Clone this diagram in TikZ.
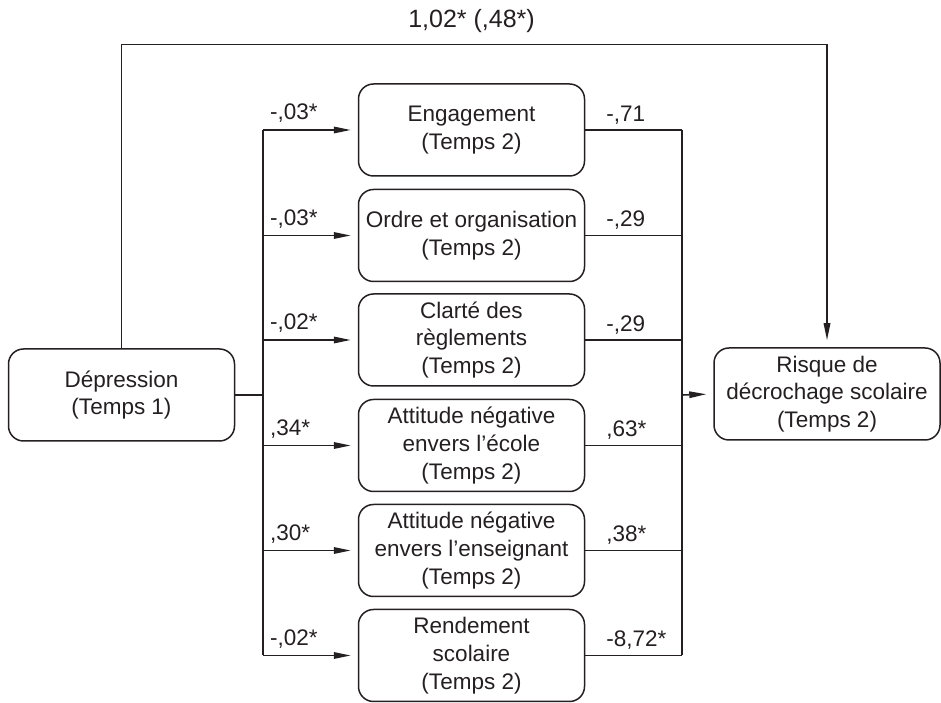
\documentclass[tikz,border=0pt]{standalone}
\usepackage{fontspec}
\setmainfont{Liberation Sans}
\usetikzlibrary{arrows.meta,calc}
\definecolor{LineClr}{rgb}{0.14,0.12,0.13}

\begin{document}
\begin{tikzpicture}[x=1pt,y=1pt,
  box/.style={draw=LineClr,line width=1.5pt,rounded corners=15pt,minimum width=226pt,minimum height=92pt,inner sep=0pt,align=center,text=LineClr,font=\fontsize{22.5}{27.7}\selectfont},
  coef/.style={anchor=base west,inner sep=0pt,text=LineClr,font=\fontsize{22.5}{27}\selectfont},
  link/.style={draw=LineClr,line width=1.6pt},
  arr/.style={link,-{Triangle[length=17pt,width=6.5pt]},shorten >=7pt}]
\useasboundingbox (0,0) rectangle (941,703);

\node[box] (dep) at (121.5,308) {Dépression\\(Temps 1)};
\node[box] (risk) at (827,309) {Risque de\\décrochage scolaire\\(Temps 2)};

\node[box] (eng) at (471.5,573) {Engagement\\(Temps 2)};
\node[box] (ord) at (471.5,467.5) {Ordre et organisation\\(Temps 2)};
\node[box] (cla) at (471.5,363) {Clarté des\\règlements\\(Temps 2)};
\node[box] (eco) at (471.5,257.5) {Attitude négative\\envers l’école\\(Temps 2)};
\node[box] (ens) at (471.5,152.5) {Attitude négative\\envers l’enseignant\\(Temps 2)};
\node[box] (ren) at (471.5,47.5) {Rendement\\scolaire\\(Temps 2)};

\coordinate (L) at (263,308);
\coordinate (R) at (682,308);
\coordinate (T) at (471.5,658.5);

% depression to mediators
\draw[link] (dep.east) -- (L);
\draw[link] (L |- eng.west) -- (L |- ren.west);
\draw[arr] (L |- eng.west) -- (eng.west);
\draw[arr] (L |- ord.west) -- (ord.west);
\draw[arr] (L |- cla.west) -- (cla.west);
\draw[arr] (L |- eco.west) -- (eco.west);
\draw[arr] (L |- ens.west) -- (ens.west);
\draw[arr] (L |- ren.west) -- (ren.west);

% mediators to risk
\draw[link] (eng.east) -- (R |- eng.east);
\draw[link] (ord.east) -- (R |- ord.east);
\draw[link] (cla.east) -- (R |- cla.east);
\draw[link] (eco.east) -- (R |- eco.east);
\draw[link] (ens.east) -- (R |- ens.east);
\draw[link] (ren.east) -- (R |- ren.east);
\draw[link] (R |- eng.east) -- (R |- ren.east);
\draw[arr] (R) -- (risk.west);

% direct path
\draw[arr] (dep.north) |- (T) -| (risk.north);
\node[coef,anchor=base,font=\fontsize{25}{30}\selectfont] (tot) at ($(T)+(0,16.5)$) {1,02* (,48*)};

\node[coef] (aEng) at ($(L |- eng.west)+(7,10)$) {-,03*};
\node[coef] (aOrd) at ($(L |- ord.west)+(7,10)$) {-,03*};
\node[coef] (aCla) at ($(L |- cla.west)+(7,10)$) {-,02*};
\node[coef] (aEco) at ($(L |- eco.west)+(7,10)$) {,34*};
\node[coef] (aEns) at ($(L |- ens.west)+(7,10)$) {,30*};
\node[coef] (aRen) at ($(L |- ren.west)+(7,10)$) {-,02*};

\node[coef] (bEng) at ($(eng.east)+(21,8.5)$) {-,71};
\node[coef] (bOrd) at ($(ord.east)+(21,8.5)$) {-,29};
\node[coef] (bCla) at ($(cla.east)+(21,8.5)$) {-,29};
\node[coef] (bEco) at ($(eco.east)+(21,8.5)$) {,63*};
\node[coef] (bEns) at ($(ens.east)+(21,8.5)$) {,38*};
\node[coef] (bRen) at ($(ren.east)+(21,8.5)$) {-8,72*};
\end{tikzpicture}
\end{document}
